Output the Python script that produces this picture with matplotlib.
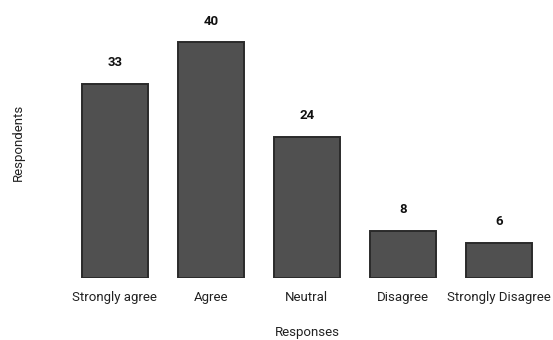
import matplotlib
matplotlib.use('Agg')
import matplotlib.pyplot as plt

plt.rcParams['font.family'] = ['Roboto', 'DejaVu Sans']

responses = ['Strongly agree', 'Agree', 'Neutral', 'Disagree', 'Strongly Disagree']
respondents = [33, 40, 24, 8, 6]

fig = plt.figure(figsize=(5.53, 3.40), dpi=100)
ax = fig.add_axes([0.121, 0.182, 0.868, 0.797])

x = list(range(len(responses)))
bars = ax.bar(x, respondents, width=0.68, color='#505050', edgecolor='#2a2a2a', linewidth=1.4)

for xi, v in zip(x, respondents):
    ax.text(xi, v + 2.5, str(v), ha='center', va='bottom', fontsize=9.5, fontweight='bold', color='#111111')

ax.set_xlim(-0.5, 4.5)
ax.set_ylim(0, 46)
ax.set_xticks(x)
ax.set_xticklabels(responses, fontsize=9.5, color='#222222')
ax.tick_params(axis='x', length=0, pad=9)
ax.set_yticks([])
for s in ax.spines.values():
    s.set_visible(False)

ax.set_xlabel('Responses', fontsize=9.5, color='#222222', labelpad=16)
ax.set_ylabel('Respondents', fontsize=9.5, color='#222222', labelpad=30)

fig.savefig('out.png', dpi=100)
